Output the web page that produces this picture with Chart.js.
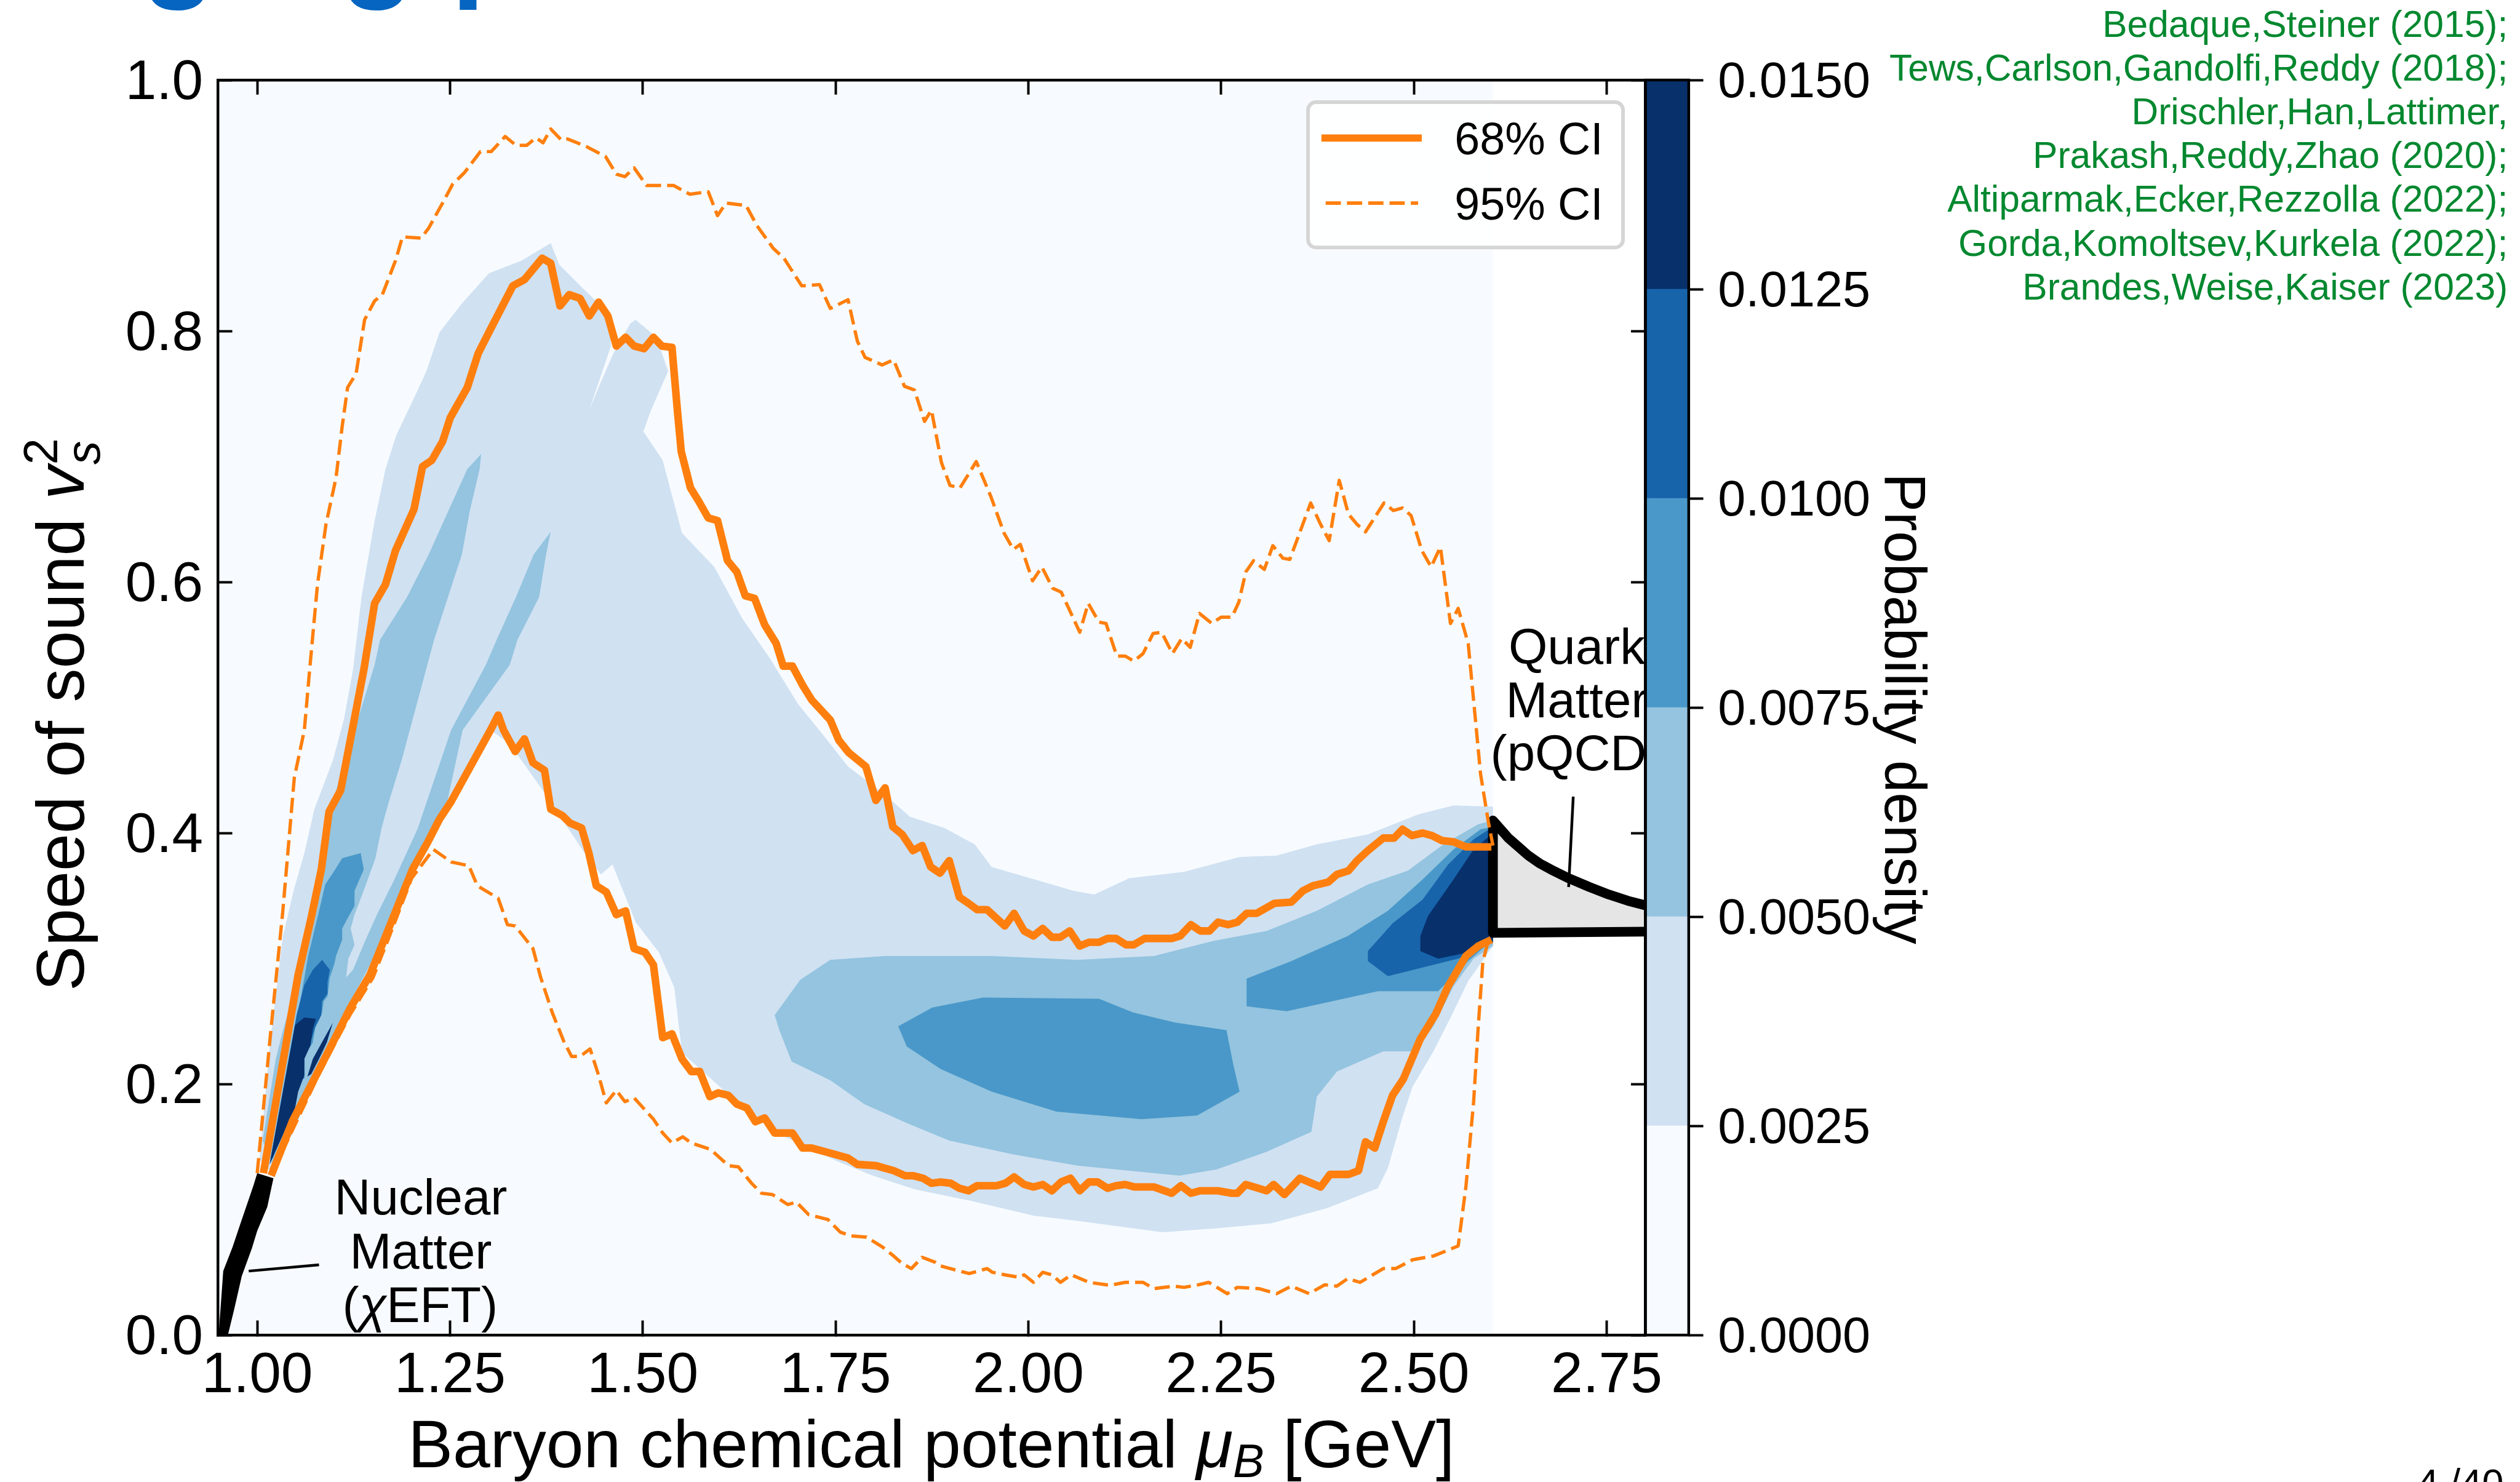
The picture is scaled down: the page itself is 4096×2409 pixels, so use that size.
<!DOCTYPE html>
<html><head><meta charset="utf-8">
<style>html,body{margin:0;padding:0;background:#fff;overflow:hidden}
canvas{position:absolute;left:0;top:0}</style>
<script src="https://cdn.jsdelivr.net/npm/chart.js@4"></script></head>
<body><canvas id="main" width="4096" height="2409"></canvas><canvas id="cbar" width="4096" height="2409"></canvas>
<script>
const xTicks=[1,1.25,1.5,1.75,2,2.25,2.5,2.75];
const yTicks=[0,0.2,0.4,0.6,0.8,1.0];
const cbTicks=[0,0.0025,0.005,0.0075,0.01,0.0125,0.015];
const cbColors=['#f7fbff','#d0e1f2','#94c4df','#4a98c9','#1764ab','#08306b'];
const refLines=['Bedaque,Steiner (2015);','Tews,Carlson,Gandolfi,Reddy (2018);','Drischler,Han,Lattimer,','Prakash,Reddy,Zhao (2020);','Altiparmak,Ecker,Rezzolla (2022);','Gorda,Komoltsev,Kurkela (2022);','Brandes,Weise,Kaiser (2023)'];

const upper68=[[1.008,.129],[1.053,.287],[1.07,.333],[1.083,.371],[1.093,.417],[1.108,.434],[1.123,.482],[1.138,.53],[1.152,.583],[1.166,.598],[1.179,.625],[1.203,.658],[1.214,.692],[1.226,.697],[1.24,.712],[1.25,.731],[1.272,.755],[1.286,.782],[1.3,.799],[1.331,.836],[1.346,.841],[1.369,.858],[1.38,.854],[1.392,.82],[1.404,.829],[1.418,.826],[1.43,.812],[1.442,.823],[1.454,.812],[1.465,.788],[1.477,.795],[1.488,.788],[1.501,.786],[1.513,.795],[1.524,.788],[1.537,.787],[1.544,.737],[1.549,.704],[1.561,.675],[1.572,.664],[1.584,.651],[1.596,.649],[1.609,.617],[1.621,.608],[1.632,.589],[1.644,.587],[1.657,.566],[1.672,.551],[1.681,.533],[1.693,.533],[1.706,.518],[1.718,.506],[1.742,.49],[1.753,.474],[1.766,.464],[1.788,.453],[1.801,.426],[1.813,.436],[1.823,.405],[1.835,.399],[1.849,.386],[1.861,.39],[1.872,.373],[1.884,.368],[1.896,.378],[1.909,.349],[1.921,.344],[1.932,.339],[1.945,.339],[1.968,.326],[1.98,.336],[1.993,.322],[2.005,.318],[2.017,.324],[2.029,.317],[2.04,.317],[2.052,.322],[2.065,.31],[2.077,.313],[2.09,.313],[2.101,.316],[2.112,.316],[2.125,.311],[2.135,.311],[2.149,.316],[2.184,.316],[2.195,.318],[2.209,.327],[2.221,.322],[2.233,.322],[2.244,.329],[2.257,.327],[2.269,.329],[2.281,.336],[2.294,.336],[2.317,.344],[2.339,.345],[2.354,.354],[2.367,.358],[2.387,.361],[2.398,.367],[2.413,.37],[2.424,.378],[2.438,.386],[2.458,.396],[2.472,.396],[2.483,.403],[2.495,.398],[2.509,.4],[2.521,.398],[2.534,.394],[2.549,.393],[2.565,.389],[2.598,.389]];

const lower68=[[1.018,.127],[1.046,.171],[1.083,.215],[1.12,.26],[1.146,.287],[1.169,.322],[1.201,.371],[1.221,.393],[1.236,.411],[1.251,.425],[1.302,.482],[1.312,.494],[1.319,.482],[1.334,.465],[1.346,.475],[1.357,.456],[1.372,.45],[1.38,.419],[1.395,.414],[1.405,.408],[1.42,.404],[1.429,.385],[1.439,.358],[1.452,.353],[1.465,.335],[1.477,.338],[1.488,.308],[1.502,.305],[1.513,.295],[1.525,.237],[1.537,.24],[1.55,.22],[1.562,.21],[1.573,.21],[1.586,.19],[1.597,.193],[1.61,.191],[1.621,.184],[1.634,.181],[1.645,.17],[1.657,.173],[1.67,.161],[1.693,.161],[1.706,.149],[1.718,.149],[1.742,.145],[1.765,.141],[1.777,.136],[1.801,.135],[1.824,.131],[1.839,.127],[1.849,.127],[1.862,.125],[1.873,.121],[1.885,.122],[1.898,.121],[1.909,.117],[1.921,.115],[1.932,.119],[1.957,.119],[1.969,.121],[1.98,.126],[1.993,.12],[2.005,.118],[2.017,.12],[2.029,.115],[2.041,.122],[2.053,.125],[2.065,.115],[2.077,.122],[2.088,.122],[2.101,.117],[2.112,.119],[2.124,.12],[2.136,.118],[2.161,.118],[2.184,.113],[2.196,.119],[2.209,.113],[2.221,.115],[2.244,.115],[2.262,.113],[2.269,.113],[2.28,.12],[2.307,.115],[2.316,.12],[2.33,.112],[2.35,.125],[2.377,.118],[2.389,.128],[2.413,.128],[2.426,.131],[2.435,.154],[2.447,.149],[2.458,.17],[2.47,.191],[2.484,.204],[2.506,.236],[2.526,.256],[2.542,.278],[2.565,.302],[2.581,.31],[2.598,.315]];

const upper95=[[1,.129],[1.018,.245],[1.033,.337],[1.048,.444],[1.061,.482],[1.068,.531],[1.078,.598],[1.089,.646],[1.102,.683],[1.11,.724],[1.117,.755],[1.128,.766],[1.139,.809],[1.152,.824],[1.162,.829],[1.179,.856],[1.188,.875],[1.212,.874],[1.222,.882],[1.24,.902],[1.253,.917],[1.268,.926],[1.289,.943],[1.303,.943],[1.321,.955],[1.335,.948],[1.349,.948],[1.361,.954],[1.37,.95],[1.38,.961],[1.394,.952],[1.402,.953],[1.426,.947],[1.451,.939],[1.465,.925],[1.476,.923],[1.488,.93],[1.504,.916],[1.539,.916],[1.56,.909],[1.584,.911],[1.596,.892],[1.607,.902],[1.633,.9],[1.647,.884],[1.668,.866],[1.682,.858],[1.705,.836],[1.728,.837],[1.742,.818],[1.765,.825],[1.777,.792],[1.787,.779],[1.809,.773],[1.824,.777],[1.838,.756],[1.851,.753],[1.864,.728],[1.873,.737],[1.886,.695],[1.897,.677],[1.91,.675],[1.931,.696],[1.95,.668],[1.967,.639],[1.979,.626],[1.988,.63],[2.004,.601],[2.016,.612],[2.03,.595],[2.041,.592],[2.065,.56],[2.076,.583],[2.09,.568],[2.099,.567],[2.113,.541],[2.124,.541],[2.135,.537],[2.147,.543],[2.16,.559],[2.171,.56],[2.185,.543],[2.197,.555],[2.208,.548],[2.22,.575],[2.236,.567],[2.248,.572],[2.262,.572],[2.271,.584],[2.28,.608],[2.29,.617],[2.304,.61],[2.315,.629],[2.328,.619],[2.337,.618],[2.364,.663],[2.376,.647],[2.388,.633],[2.401,.681],[2.413,.654],[2.424,.646],[2.435,.64],[2.459,.663],[2.471,.657],[2.483,.659],[2.494,.653],[2.508,.625],[2.52,.612],[2.532,.628],[2.545,.567],[2.555,.579],[2.568,.551],[2.584,.447],[2.594,.409],[2.6,.39]];

const lower95=[[1.02,.13],[1.08,.208],[1.12,.255],[1.15,.285],[1.17,.316],[1.2,.364],[1.228,.387],[1.251,.377],[1.274,.374],[1.285,.358],[1.312,.348],[1.324,.327],[1.334,.326],[1.357,.308],[1.367,.285],[1.382,.257],[1.397,.234],[1.407,.222],[1.418,.222],[1.431,.228],[1.442,.207],[1.452,.185],[1.465,.195],[1.476,.186],[1.488,.189],[1.513,.172],[1.525,.161],[1.537,.153],[1.551,.158],[1.562,.153],[1.587,.148],[1.61,.135],[1.623,.134],[1.64,.121],[1.653,.113],[1.667,.112],[1.687,.104],[1.698,.106],[1.714,.096],[1.739,.092],[1.755,.082],[1.769,.079],[1.789,.078],[1.81,.07],[1.824,.063],[1.835,.057],[1.847,.053],[1.861,.062],[1.878,.058],[1.885,.055],[1.922,.049],[1.945,.053],[1.952,.05],[1.968,.048],[1.987,.046],[1.993,.048],[2.005,.042],[2.017,.05],[2.029,.048],[2.04,.042],[2.054,.048],[2.077,.042],[2.1,.04],[2.107,.04],[2.124,.042],[2.147,.042],[2.161,.037],[2.187,.039],[2.2,.038],[2.218,.04],[2.232,.042],[2.256,.033],[2.269,.038],[2.297,.037],[2.32,.033],[2.339,.039],[2.362,.033],[2.382,.04],[2.398,.039],[2.412,.045],[2.428,.042],[2.458,.053],[2.474,.053],[2.496,.06],[2.523,.063],[2.555,.071],[2.565,.118],[2.575,.186],[2.581,.246],[2.587,.298],[2.594,.314]];

const band0=[[.945,0],[2.6,0],[2.6,1],[.945,1]];
const band1=[[1.003,.14],[1.016,.229],[1.033,.317],[1.047,.354],[1.061,.384],[1.074,.419],[1.098,.458],[1.112,.49],[1.124,.53],[1.135,.588],[1.152,.649],[1.166,.69],[1.18,.717],[1.201,.744],[1.219,.768],[1.236,.799],[1.265,.822],[1.3,.846],[1.342,.856],[1.38,.87],[1.391,.853],[1.42,.835],[1.454,.815],[1.458,.788],[1.43,.737],[1.444,.758],[1.461,.782],[1.483,.806],[1.49,.809],[1.517,.795],[1.532,.768],[1.51,.737],[1.5,.72],[1.525,.697],[1.55,.639],[1.592,.612],[1.628,.571],[1.664,.539],[1.7,.503],[1.733,.478],[1.765,.453],[1.812,.431],[1.845,.413],[1.89,.404],[1.929,.391],[1.951,.373],[2.001,.364],[2.057,.354],[2.084,.351],[2.129,.364],[2.2,.369],[2.272,.381],[2.32,.382],[2.372,.391],[2.438,.399],[2.504,.415],[2.549,.422],[2.6,.421],[2.6,.31],[2.568,.282],[2.546,.254],[2.523,.226],[2.496,.198],[2.483,.174],[2.464,.133],[2.451,.117],[2.385,.101],[2.313,.089],[2.242,.085],[2.172,.082],[2.062,.091],[2.006,.095],[1.924,.107],[1.852,.116],[1.797,.127],[1.753,.138],[1.676,.16],[1.604,.195],[1.55,.225],[1.54,.277],[1.52,.305],[1.49,.329],[1.46,.375],[1.445,.367],[1.425,.383],[1.372,.432],[1.327,.471],[1.302,.482],[1.236,.415],[1.146,.29],[1.083,.22],[1.05,.18],[1.018,.13]];
const band2ridges=[[1.007,.155],[1.024,.22],[1.033,.242],[1.06,.3],[1.08,.37],[1.095,.42],[1.11,.45],[1.126,.482],[1.152,.534],[1.159,.554],[1.194,.588],[1.222,.622],[1.247,.656],[1.272,.69],[1.29,.702],[1.288,.69],[1.275,.656],[1.265,.622],[1.247,.588],[1.229,.554],[1.187,.458],[1.171,.426],[1.161,.404],[1.153,.38],[1.139,.356],[1.126,.335],[1.121,.324],[1.126,.311],[1.118,.3],[1.115,.285],[1.124,.291],[1.139,.313],[1.155,.335],[1.176,.361],[1.194,.385],[1.208,.404],[1.251,.482],[1.296,.534],[1.31,.554],[1.335,.588],[1.358,.622],[1.38,.64],[1.374,.622],[1.365,.588],[1.337,.554],[1.327,.534],[1.266,.482],[1.246,.425],[1.221,.391],[1.166,.318],[1.126,.272],[1.08,.21],[1.045,.16],[1.02,.135]];
const band2main=[[1.67,.255],[1.703,.283],[1.742,.299],[1.813,.302],[1.951,.302],[2.062,.299],[2.161,.302],[2.238,.314],[2.307,.322],[2.372,.338],[2.438,.359],[2.49,.37],[2.536,.391],[2.581,.407],[2.6,.41],[2.6,.31],[2.575,.3],[2.549,.278],[2.523,.246],[2.499,.226],[2.458,.226],[2.398,.21],[2.372,.19],[2.365,.162],[2.307,.146],[2.242,.132],[2.194,.127],[2.062,.135],[1.979,.144],[1.896,.155],[1.841,.169],[1.786,.184],[1.742,.203],[1.692,.218],[1.676,.243]];
const band3low=[[1.019,.145],[1.053,.257],[1.066,.302],[1.082,.343],[1.088,.359],[1.1,.37],[1.11,.38],[1.134,.384],[1.138,.371],[1.126,.354],[1.126,.342],[1.116,.331],[1.11,.324],[1.11,.315],[1.102,.302],[1.1,.296],[1.094,.285],[1.091,.27],[1.086,.266],[1.084,.257],[1.076,.249],[1.072,.233],[1.061,.222],[1.061,.207],[1.053,.201],[1.045,.186],[1.02,.14]];
const band3blob=[[1.83,.246],[1.874,.261],[1.94,.269],[2.09,.268],[2.134,.257],[2.189,.249],[2.255,.243],[2.264,.215],[2.272,.194],[2.217,.175],[2.145,.172],[2.035,.178],[1.951,.194],[1.885,.212],[1.841,.23]];
const band3right=[[2.281,.284],[2.339,.298],[2.412,.318],[2.464,.338],[2.509,.363],[2.549,.387],[2.584,.403],[2.6,.405],[2.6,.315],[2.568,.298],[2.529,.274],[2.49,.274],[2.451,.274],[2.392,.266],[2.333,.258],[2.281,.262]];
const band4low=[[1.016,.136],[1.051,.255],[1.061,.279],[1.072,.291],[1.084,.299],[1.094,.291],[1.091,.281],[1.091,.272],[1.084,.266],[1.083,.255],[1.075,.245],[1.069,.233],[1.061,.222],[1.061,.205],[1.053,.201],[1.049,.19],[1.045,.181]];
const band4right=[[2.438,.306],[2.47,.328],[2.509,.347],[2.542,.375],[2.575,.395],[2.6,.405],[2.6,.313],[2.555,.3],[2.516,.294],[2.464,.286],[2.438,.298]];
const band5low=[[1.016,.136],[1.049,.247],[1.061,.253],[1.076,.252],[1.072,.244],[1.069,.231],[1.061,.22],[1.061,.207],[1.053,.194],[1.049,.181]];
const band5strip=[[1.098,.249],[1.08,.229],[1.072,.22],[1.065,.206],[1.07,.208],[1.08,.22],[1.09,.233]];
const band5right=[[2.506,.318],[2.516,.334],[2.549,.363],[2.575,.387],[2.6,.4],[2.6,.313],[2.561,.304],[2.529,.3],[2.506,.306]];

const quarkCurve=[[2.6,.41],[2.61,.403],[2.62,.396],[2.633,.389],[2.646,.382],[2.66,.376],[2.675,.371],[2.698,.364],[2.725,.357],[2.75,.351],[2.775,.346],[2.8,.342]];
const quarkFill=[[2.6,.3205]].concat(quarkCurve,[[2.8,.3215]]);
const quarkEdge=[[2.8,.3215],[2.6,.3205]].concat(quarkCurve);
const nuclear=[[.95,0],[.956,.051],[.968,.07],[.98,.092],[.995,.119],[1,.129],[1.021,.125],[1.013,.102],[1,.083],[.993,.069],[.98,.047],[.97,.02],[.962,0]];
const leaderQuark=[[2.704,.429],[2.698,.357]];
const leaderNuclear=[[1.08,.056],[.989,.051]];

const S=4096/4144;
const FONT='"Liberation Sans"';
const XMIN=1-65/1268, XMAX=XMIN+2348/1268;
const pts=a=>a.map(p=>({x:1+(p[0]-1)*1.0016,y:p[1]}));
const poly=(a,c)=>({data:pts(a.concat([a[0]])),showLine:true,pointRadius:0,borderWidth:0,borderColor:c,backgroundColor:c,fill:'shape'});
const line=(a,c,w,dash)=>({data:pts(a),showLine:true,pointRadius:0,borderWidth:w,borderColor:c,backgroundColor:c,fill:false,borderDash:dash||[],borderJoinStyle:'round',borderCapStyle:'butt',tension:0});

const back2front=[
 poly(band0,cbColors[0]),poly(band1,cbColors[1]),
 poly(band2ridges,cbColors[2]),poly(band2main,cbColors[2]),
 poly(band3low,cbColors[3]),poly(band3blob,cbColors[3]),poly(band3right,cbColors[3]),
 poly(band4low,cbColors[4]),poly(band4right,cbColors[4]),
 poly(band5low,cbColors[5]),poly(band5strip,cbColors[5]),poly(band5right,cbColors[5]),
 poly(quarkFill,'#e5e5e5'),line(quarkEdge,'#000',16*S),poly(nuclear,'#000'),
 line(leaderQuark,'#000',4.5*S),line(leaderNuclear,'#000',4.5*S),
 line(upper95,'#ff7f0e',5.5*S,[25*S,10*S]),line(lower95,'#ff7f0e',5.5*S,[25*S,10*S]),
 line(upper68,'#ff7f0e',12.5*S),line(lower68,'#ff7f0e',12.5*S)
];
back2front.forEach((d,i)=>{d.order=back2front.length-i;});

function runs(ctx,list,x,y,rot){
  ctx.save();ctx.translate(x,y);ctx.rotate(rot||0);ctx.textAlign='left';ctx.textBaseline='alphabetic';
  let cx=0;
  for(const r of list){
    ctx.font=r.font;
    ctx.fillText(r.t,cx+(r.dx||0),r.dy||0);
    if(!r.stay)cx+=ctx.measureText(r.t).width+(r.dx||0);
  }
  ctx.restore();
}
const F=(px,st)=>(st?st+' ':'')+(px*S)+'px '+FONT;
const overlay={id:'overlay',afterDatasetsDraw(ch){
  const c=ch.ctx;c.save();c.fillStyle='#000';c.textBaseline='alphabetic';
  c.textAlign='center';c.font=F(82.5);
  c.fillText('Nuclear',692*S,1997*S);c.fillText('Matter',692*S,2086*S);
  runs(c,[{t:'(',font:F(82.5)},{t:'χ',font:F(82.5,'italic')},{t:'EFT)',font:F(82.5)}],563*S,2174*S);
  c.textAlign='center';c.font=F(82.5);
  c.fillText('Quark',2593*S,1092*S);c.fillText('Matter',2593*S,1180*S);c.fillText('(pQCD)',2593*S,1266.5*S);
  const lx=2151*S,ly=168*S,lw=518*S,lh=239*S;
  c.beginPath();c.roundRect(lx,ly,lw,lh,13*S);c.fillStyle='rgba(255,255,255,.85)';c.fill();
  c.lineWidth=6*S;c.strokeStyle='#d5d5d5';c.stroke();
  c.strokeStyle='#ff7f0e';c.lineWidth=12*S;c.beginPath();c.moveTo(2173*S,227*S);c.lineTo(2338*S,227*S);c.stroke();
  c.lineWidth=6*S;c.setLineDash([25*S,10*S]);c.beginPath();c.moveTo(2180*S,334*S);c.lineTo(2332*S,334*S);c.stroke();c.setLineDash([]);
  c.fillStyle='#000';c.textAlign='left';c.font=F(74.5);
  c.fillText('68% CI',2392*S,254*S);c.fillText('95% CI',2392*S,361*S);
  c.restore();
},afterDraw(ch){
  const c=ch.ctx;c.save();c.fillStyle='#000';
  runs(c,[{t:'Baryon chemical potential ',font:F(110.5)},{t:'μ',font:F(110.5,'italic')},{t:'B',font:F(77,'italic'),dy:16*S},{t:' [GeV]',font:F(110.5)}],671*S,2413*S);
  runs(c,[{t:'Speed of sound ',font:F(111)},{t:'v',font:F(111,'italic')},
          {t:'2',font:F(78),dy:-44*S,stay:true,dx:2*S},{t:'s',font:F(78,'italic'),dy:26*S,dx:2*S}],138*S,1630*S,-Math.PI/2);
  c.textAlign='right';c.textBaseline='alphabetic';c.fillStyle='#03882f';c.font=F(61.2);
  refLines.forEach((t,i)=>c.fillText(t,4124*S,(60.5+72*i)*S));
  c.fillStyle='#000';c.font=F(64);c.fillText('4 /40',4117*S,2461*S);
  c.textAlign='left';c.fillStyle='#0565c0';c.font=F(200,'bold');
  c.fillText('g',233*S,-25*S);c.fillText('g',560*S,-25*S);c.fillText('p',742*S,-25*S);
  c.restore();
}};

const axisBase=(extra)=>Object.assign({border:{display:true,color:'#000',width:4.5*S,z:1}},extra);
const TL=-24*S;
const W=4096,H=2409;
new Chart(document.getElementById('main'),{
 type:'scatter',
 data:{datasets:back2front},
 options:{responsive:false,animation:false,devicePixelRatio:1,
  layout:{padding:0},
  plugins:{legend:{display:false},tooltip:{enabled:false}},
  scales:{
   x:axisBase({type:'linear',position:'bottom',min:XMIN,max:XMAX,
     afterBuildTicks(s){s.ticks=xTicks.map(v=>({value:v}));},afterFit(s){s.height=H-2195.6*S;},
     grid:{drawOnChartArea:false,tickLength:TL,tickWidth:4*S,tickColor:'#000',z:1},
     ticks:{autoSkip:false,maxRotation:0,padding:-TL+12*S,color:'#000',font:{family:FONT,size:94*S},z:1,callback:v=>Number(v).toFixed(2)}}),
   x2:axisBase({type:'linear',position:'top',min:XMIN,max:XMAX,
     afterBuildTicks(s){s.ticks=xTicks.map(v=>({value:v}));},afterFit(s){s.height=131.6*S;},
     grid:{drawOnChartArea:false,tickLength:TL,tickWidth:4*S,tickColor:'#000',z:1},ticks:{display:false}}),
   y:axisBase({type:'linear',position:'left',min:0,max:1,
     afterBuildTicks(s){s.ticks=yTicks.map(v=>({value:v}));},afterFit(s){s.width=358*S;},
     grid:{drawOnChartArea:false,tickLength:TL,tickWidth:4*S,tickColor:'#000',z:1},
     ticks:{autoSkip:false,padding:-TL+24*S,labelOffset:6*S,color:'#000',font:{family:FONT,size:92*S},z:1,callback:v=>Number(v).toFixed(1)}}),
   y2:axisBase({type:'linear',position:'right',min:0,max:1,
     afterBuildTicks(s){s.ticks=yTicks.map(v=>({value:v}));},afterFit(s){s.width=W-2706*S;},
     grid:{drawOnChartArea:false,tickLength:TL,tickWidth:4*S,tickColor:'#000',z:1},ticks:{display:false}})
  }},
 plugins:[overlay]
});

const frame={id:'frame',afterDatasetsDraw(ch){
  const a=ch.chartArea,c=ch.ctx;c.save();c.strokeStyle='#000';c.lineWidth=4.5*S;
  c.strokeRect(a.left,a.top,a.right-a.left,a.bottom-a.top);c.restore();
},afterDraw(ch){
  const c=ch.ctx;c.save();c.fillStyle='#000';
  runs(c,[{t:'Probability density',font:F(95.5)}],3100*S,778*S,Math.PI/2);
  c.restore();
}};
new Chart(document.getElementById('cbar'),{
 type:'bar',
 data:{labels:[''],datasets:cbColors.map((col,i)=>({data:[[cbTicks[i],cbTicks[i+1]]],backgroundColor:col,borderWidth:0,barPercentage:1,categoryPercentage:1,grouped:false}))},
 options:{responsive:false,animation:false,devicePixelRatio:1,
  layout:{padding:{left:2706*S,top:131.6*S,right:0,bottom:H-2195.6*S}},
  plugins:{legend:{display:false},tooltip:{enabled:false}},
  scales:{
   x:{display:false,offset:true,grid:{display:false}},
   y:{type:'linear',position:'right',min:0,max:.015,
     afterBuildTicks(s){s.ticks=cbTicks.map(v=>({value:v}));},afterFit(s){s.width=W-2777*S;},
     border:{display:false},
     grid:{drawOnChartArea:false,tickLength:24*S,tickWidth:4*S,tickColor:'#000',z:1},
     ticks:{autoSkip:false,padding:24*S,labelOffset:6*S,color:'#000',font:{family:FONT,size:82*S},z:1,callback:v=>Number(v).toFixed(4)}}
  }},
 plugins:[frame]
});
</script></body></html>
